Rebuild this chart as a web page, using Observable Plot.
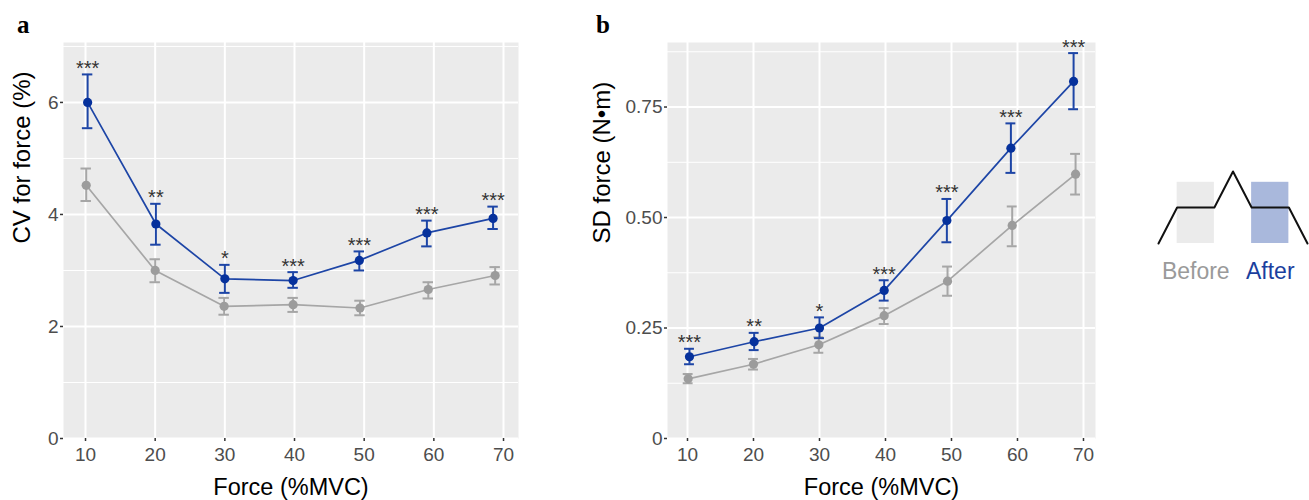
<!DOCTYPE html>
<html><head><meta charset="utf-8">
<script src="https://cdn.jsdelivr.net/npm/d3@7"></script>
<script src="https://cdn.jsdelivr.net/npm/@observablehq/plot@0.6"></script>
<style>
body{margin:0;background:#fff;}
#root{position:relative;width:1309px;height:500px;overflow:hidden;font-family:"Liberation Sans",Arial,sans-serif;}
.panel{position:absolute;top:0;}
.tag{position:absolute;font-family:"Liberation Serif","Times New Roman",serif;font-weight:bold;font-size:25px;line-height:1;}
</style></head><body><div id="root"></div>
<script>
// ---- data ----
const forceTicks = [10, 20, 30, 40, 50, 60, 70];
const forceBefore = [10.1, 20, 29.9, 39.8, 49.4, 59.2, 68.8];
const forceAfter  = [10.3, 20.1, 30, 39.8, 49.3, 59.0, 68.5];

const cvBefore   = [4.52, 3.00, 2.36, 2.39, 2.33, 2.66, 2.91];
const cvBeforeLo = [4.24, 2.79, 2.21, 2.26, 2.20, 2.50, 2.75];
const cvBeforeHi = [4.82, 3.20, 2.51, 2.51, 2.46, 2.79, 3.06];
const cvAfter    = [6.00, 3.83, 2.85, 2.82, 3.18, 3.67, 3.93];
const cvAfterLo  = [5.54, 3.46, 2.60, 2.69, 3.00, 3.43, 3.74];
const cvAfterHi  = [6.50, 4.19, 3.10, 2.97, 3.34, 3.89, 4.14];
const cvSig      = ["***", "**", "*", "***", "***", "***", "***"];
const cvTicks    = [0, 2, 4, 6];
const cvMinor    = [1, 3, 5, 7];

const sdBefore   = [0.135, 0.168, 0.212, 0.278, 0.356, 0.482, 0.598];
const sdBeforeLo = [0.125, 0.156, 0.194, 0.259, 0.323, 0.435, 0.552];
const sdBeforeHi = [0.146, 0.180, 0.229, 0.295, 0.389, 0.525, 0.644];
const sdAfter    = [0.185, 0.219, 0.250, 0.335, 0.493, 0.657, 0.808];
const sdAfterLo  = [0.168, 0.200, 0.227, 0.312, 0.444, 0.601, 0.745];
const sdAfterHi  = [0.203, 0.239, 0.274, 0.358, 0.542, 0.713, 0.872];
const sdSig      = ["***", "**", "*", "***", "***", "***", "***"];
const sdTicks    = [0, 0.25, 0.5, 0.75];
const sdMinor    = [0.125, 0.375, 0.625, 0.875];

// legend schematic
const traceT = [0, 1, 3, 4, 5, 7, 8];
const traceLevel = [0, 1, 1, 2, 1, 1, 0];
const windowNames = ["Before", "After"];
const windowStart = [1, 5];
const windowEnd = [3, 7];
const windowTop = [1.7, 1.7];

// ---- styles ----
const GREY_LINE = "#a6a6a6", GREY_DOT = "#9c9c9c";
const BLUE_LINE = "#1d45a6", BLUE_DOT = "#06319c";
const FONT = "Liberation Sans, Arial, Helvetica, sans-serif";

function rows(xs, m, lo, hi, sig) {
  return xs.map((x, i) => ({x, m: m[i], lo: lo[i], hi: hi[i], sig: sig ? sig[i] : ""}));
}

function panel(o) {
  const B = rows(forceBefore, o.before, o.beforeLo, o.beforeHi);
  const A = rows(forceAfter, o.after, o.afterLo, o.afterHi, o.sig);
  const cap = 0.75;
  const series = (D, line, dot) => [
    Plot.line(D, {x: "x", y: "m", stroke: line, strokeWidth: 1.7}),
    Plot.ruleX(D, {x: "x", y1: "lo", y2: "hi", stroke: line, strokeWidth: 2}),
    Plot.ruleY(D, {y: "lo", x1: d => d.x - cap, x2: d => d.x + cap, stroke: line, strokeWidth: 2}),
    Plot.ruleY(D, {y: "hi", x1: d => d.x - cap, x2: d => d.x + cap, stroke: line, strokeWidth: 2}),
    Plot.dot(D, {x: "x", y: "m", r: 4.6, fill: dot, stroke: "none"})
  ];
  return Plot.plot({
    width: 530, height: 500,
    marginLeft: o.marginLeft, marginRight: o.marginRight, marginTop: 42, marginBottom: 62,
    x: {domain: o.xDomain},
    y: {domain: o.yDomain},
    style: {fontFamily: FONT, background: "transparent", overflow: "visible"},
    marks: [
      Plot.frame({fill: "#ebebeb", stroke: "none"}),
      Plot.gridY(o.yMinor, {stroke: "white", strokeOpacity: 1, strokeWidth: 1}),
      Plot.gridY(o.yTicks, {stroke: "white", strokeOpacity: 1, strokeWidth: 2}),
      Plot.gridX(forceTicks, {stroke: "white", strokeOpacity: 1, strokeWidth: 2}),
      Plot.axisX(forceTicks, {label: null, tickSize: 3, tickPadding: 6, fontSize: 19, fill: "#4d4d4d", stroke: "#333", strokeWidth: 1.5}),
      Plot.axisY(o.yTicks, {label: null, tickSize: 3, tickPadding: 2, fontSize: 19, fill: "#4d4d4d", stroke: "#333", strokeWidth: 1.5, tickFormat: o.yFormat}),
      Plot.text(["Force (%MVC)"], {text: d => d, frameAnchor: "bottom", dy: 56, fontSize: 23.5, fill: "#000"}),
      Plot.text([o.yLabel], {text: d => d, frameAnchor: "left", rotate: -90, dx: -(o.marginLeft - 22), dy: 3, fontSize: 24, fill: "#000"}),
      ...series(B, GREY_LINE, GREY_DOT),
      ...series(A, BLUE_LINE, BLUE_DOT),
      Plot.text(A, {x: "x", y: "hi", text: "sig", dy: -6, fontSize: 20, fill: "#333"})
    ]
  });
}

const root = document.getElementById("root");
function place(el, left, top) {
  const d = document.createElement("div");
  d.className = "panel"; d.style.left = left + "px"; d.style.top = top + "px";
  d.appendChild(el); root.appendChild(d);
}

place(panel({
  before: cvBefore, beforeLo: cvBeforeLo, beforeHi: cvBeforeHi,
  after: cvAfter, afterLo: cvAfterLo, afterHi: cvAfterHi, sig: cvSig,
  yDomain: [0, 7.07], yTicks: cvTicks, yMinor: cvMinor, yFormat: d => String(d),
  yLabel: "CV for force (%)", marginLeft: 63, marginRight: 12, xDomain: [6.84, 72.15]
}), 0, 0);

place(panel({
  before: sdBefore, beforeLo: sdBeforeLo, beforeHi: sdBeforeHi,
  after: sdAfter, afterLo: sdAfterLo, afterHi: sdAfterHi, sig: sdSig,
  yDomain: [0, 0.896], yTicks: sdTicks, yMinor: sdMinor, yFormat: d => d === 0 ? "0" : d.toFixed(2),
  yLabel: "SD force (N\u2022m)", marginLeft: 87, marginRight: 15, xDomain: [6.97, 71.82]
}), 580, 0);

// legend schematic
const trace = traceT.map((t, i) => ({t, level: traceLevel[i]}));
const windows = windowNames.map((name, i) => ({name, x1: windowStart[i], x2: windowEnd[i], top: windowTop[i], mid: (windowStart[i] + windowEnd[i]) / 2}));
const legend = Plot.plot({
  width: 159, height: 140, marginLeft: 8, marginRight: 2, marginTop: 21, marginBottom: 47,
  x: {domain: [0, 8], axis: null}, y: {domain: [0, 2], axis: null},
  style: {fontFamily: FONT, background: "transparent", overflow: "visible"},
  marks: [
    Plot.rect(windows, {x1: "x1", x2: "x2", y1: 0, y2: "top", fill: d => d.name === "Before" ? "#ebebeb" : "#a9b8dc"}),
    Plot.line(trace, {x: "t", y: "level", stroke: "#111", strokeWidth: 2}),
    Plot.text(windows, {x: "mid", text: "name", frameAnchor: "bottom", lineAnchor: "top", dy: 19, fontSize: 23,
      fill: d => d.name === "Before" ? "#9a9a9a" : "#1b3f9e"})
  ]
});
place(legend, 1150, 150);

// panel tags
for (const [t, x] of [["a", 17], ["b", 596]]) {
  const s = document.createElement("div");
  s.className = "tag"; s.textContent = t; s.style.left = x + "px"; s.style.top = "12px";
  root.appendChild(s);
}
</script></body></html>
